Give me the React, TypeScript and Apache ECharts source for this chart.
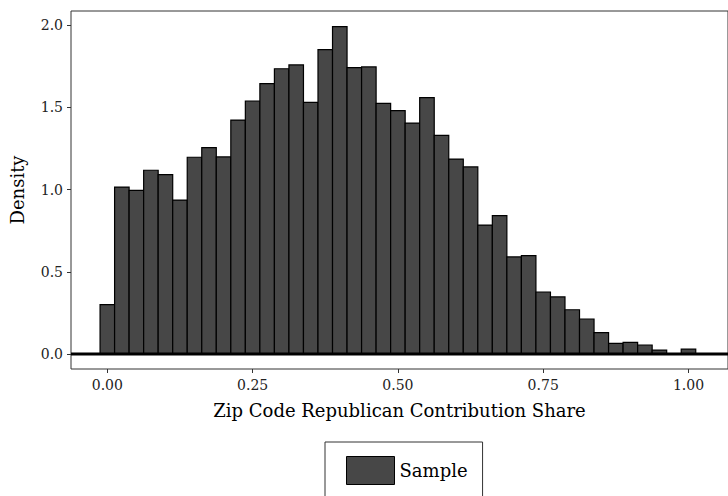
import React, { useEffect, useRef } from "react";
import * as echarts from "echarts";

const binCenters = [
  0, 0.025, 0.05, 0.075, 0.1, 0.125, 0.15, 0.175, 0.2, 0.225,
  0.25, 0.275, 0.3, 0.325, 0.35, 0.375, 0.4, 0.425, 0.45, 0.475,
  0.5, 0.525, 0.55, 0.575, 0.6, 0.625, 0.65, 0.675, 0.7, 0.725,
  0.75, 0.775, 0.8, 0.825, 0.85, 0.875, 0.9, 0.925, 0.95, 0.975, 1.0,
];
const densities = [
  0.3, 1.015, 0.995, 1.117, 1.09, 0.936, 1.196, 1.254, 1.198, 1.422,
  1.538, 1.643, 1.734, 1.757, 1.53, 1.85, 1.99, 1.741, 1.745, 1.524,
  1.479, 1.404, 1.558, 1.329, 1.185, 1.137, 0.784, 0.841, 0.59, 0.598,
  0.377, 0.347, 0.269, 0.213, 0.13, 0.065, 0.071, 0.055, 0.024, 0, 0.03,
];
const binWidth = 0.025;
const xTicks = [0, 0.25, 0.5, 0.75, 1.0];
const yTicks = [0, 0.5, 1.0, 1.5, 2.0];
const xRange = [-0.0625, 1.068];
const yRange = [-0.091, 2.085];

const FONT = "DejaVu Serif";

export default function App() {
  const ref = useRef<HTMLDivElement>(null);
  useEffect(() => {
    document.body.style.margin = "0";
    const chart = echarts.init(ref.current!, null, { renderer: "svg" });
    const data = binCenters.map((c, i) => [c, densities[i]]);
    chart.setOption({
      animation: false,
      backgroundColor: "#ffffff",
      grid: {
        left: 71,
        top: 11,
        right: -10,
        bottom: 127,
        show: true,
        borderColor: "#333333",
        borderWidth: 1,
        backgroundColor: "transparent",
      },
      legend: {
        left: 325,
        top: 442,
        padding: [14, 15, 14, 21],
        borderColor: "#333333",
        borderWidth: 1,
        itemWidth: 48,
        itemHeight: 28,
        textStyle: { fontFamily: FONT, fontSize: 18, color: "#000" },
        data: [
          {
            name: "Sample",
            icon: "rect",
            itemStyle: { color: "#474747", borderColor: "#000", borderWidth: 1 },
          },
        ],
      },
      xAxis: {
        type: "value",
        min: xRange[0],
        max: xRange[1],
        name: "Zip Code Republican Contribution Share",
        nameLocation: "middle",
        nameGap: 32,
        nameTextStyle: { fontFamily: FONT, fontSize: 18, color: "#000" },
        axisLine: { show: false, onZero: false },
        splitLine: { show: false },
        axisTick: {
          show: true,
          length: 4,
          customValues: xTicks,
          lineStyle: { color: "#333", width: 1 },
        },
        axisLabel: {
          customValues: xTicks,
          margin: 9,
          fontFamily: FONT,
          fontSize: 14,
          color: "#222",
          formatter: (v: number) => v.toFixed(2),
        },
      },
      yAxis: {
        type: "value",
        min: yRange[0],
        max: yRange[1],
        name: "Density",
        nameLocation: "middle",
        nameGap: 45,
        nameRotate: 90,
        nameTextStyle: { fontFamily: FONT, fontSize: 18, color: "#000" },
        axisLine: { show: false, onZero: false },
        splitLine: { show: false },
        axisTick: {
          show: true,
          length: 4,
          customValues: yTicks,
          lineStyle: { color: "#333", width: 1 },
        },
        axisLabel: {
          customValues: yTicks,
          margin: 8,
          fontFamily: FONT,
          fontSize: 14,
          color: "#222",
          formatter: (v: number) => v.toFixed(1),
        },
      },
      series: [
        {
          name: "Sample",
          type: "custom",
          clip: true,
          data,
          encode: { x: 0, y: 1 },
          itemStyle: { color: "#474747" },
          renderItem: (params: any, api: any) => {
            const c = api.value(0);
            const v = api.value(1);
            if (!v) return null;
            const p1 = api.coord([c - binWidth / 2, v]);
            const p2 = api.coord([c + binWidth / 2, 0]);
            return {
              type: "rect",
              shape: { x: p1[0], y: p1[1], width: p2[0] - p1[0], height: p2[1] - p1[1] },
              style: { fill: "#474747", stroke: "#000", lineWidth: 1.2 },
            };
          },
        },
        {
          name: "zero",
          type: "line",
          data: [
            [xRange[0], 0],
            [xRange[1], 0],
          ],
          symbol: "none",
          silent: true,
          lineStyle: { color: "#000", width: 3 },
          z: 5,
        },
      ],
    });
    return () => chart.dispose();
  }, []);
  return (
    <div
      ref={ref}
      style={{ position: "absolute", left: 0, top: 0, width: 728, height: 496 }}
    />
  );
}
